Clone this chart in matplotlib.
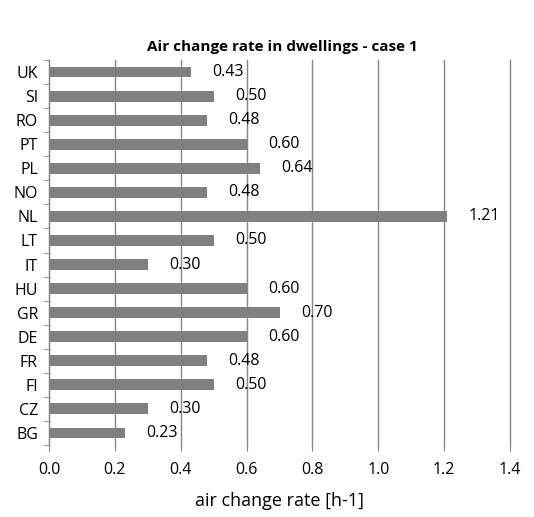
import matplotlib
matplotlib.use('Agg')
import matplotlib.pyplot as plt

countries = ['BG', 'CZ', 'FI', 'FR', 'DE', 'GR', 'HU', 'IT',
             'LT', 'NL', 'NO', 'PL', 'PT', 'RO', 'SI', 'UK']
rates = [0.23, 0.30, 0.50, 0.48, 0.60, 0.70, 0.60, 0.30,
         0.50, 1.21, 0.48, 0.64, 0.60, 0.48, 0.50, 0.43]
xticks = [0.0, 0.2, 0.4, 0.6, 0.8, 1.0, 1.2, 1.4]

plt.rcParams['font.family'] = ['Open Sans', 'DejaVu Sans']

fig = plt.figure(figsize=(5.34, 5.17), dpi=100)
ax = fig.add_axes([49 / 534, 1 - 445 / 517, 461 / 534, 385 / 517])

y = range(len(countries))
ax.barh(y, rates, height=0.45, color='#808080', zorder=3)
for yi, v in zip(y, rates):
    ax.text(v + 0.065, yi, f'{v:.2f}', va='center', ha='left', fontsize=11.5, zorder=4)

ax.set_xlim(0, 1.4)
ax.set_ylim(-0.5, len(countries) - 0.5)
ax.set_xticks(xticks)
ax.set_xticklabels([f'{t:.1f}' for t in xticks], fontsize=11.5)
ax.set_yticks(list(y))
ax.set_yticklabels(countries, fontsize=11.5)
ax.set_yticks([i - 0.5 for i in range(len(countries) + 1)], minor=True)
ax.tick_params(axis='y', which='major', length=0, pad=8)
ax.tick_params(axis='y', which='minor', length=4, color='#868686')
ax.tick_params(axis='x', length=4, color='#868686', pad=8)
ax.grid(axis='x', color='#868686', linewidth=1, zorder=0)
for line in ax.get_xgridlines():
    line.set_clip_on(False)
for s in ['top', 'right', 'bottom']:
    ax.spines[s].set_visible(False)
ax.spines['left'].set_color('#868686')

ax.set_xlabel('air change rate [h-1]', fontsize=13, labelpad=10)
fig.text(282 / 534, 1 - 47 / 517, 'Air change rate in dwellings - case 1',
         ha='center', va='center', fontsize=11, fontweight='bold')

fig.savefig('out.png', dpi=100)
